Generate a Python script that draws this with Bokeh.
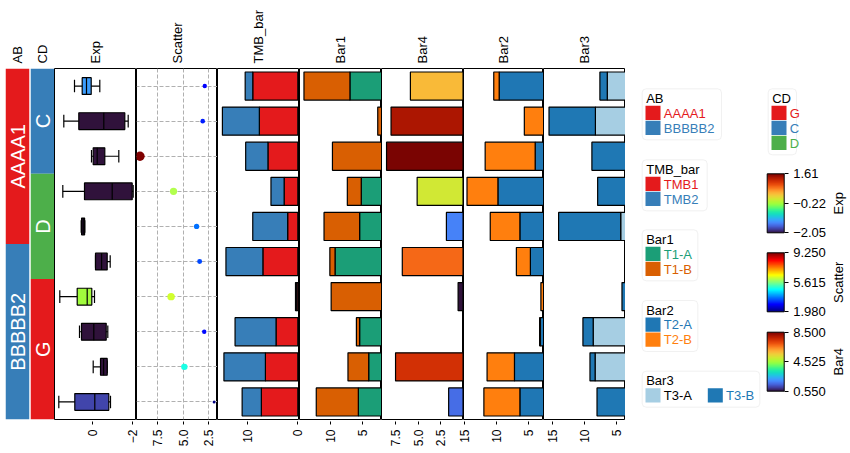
import numpy as np
from math import pi
from bokeh.plotting import figure
from bokeh.layouts import row, column
from bokeh.models import (ColumnDataSource, Range1d, FixedTicker, BoxAnnotation, Spacer,
                          ColorBar, LinearColorMapper, Grid, CustomJSTickFormatter,
                          PrintfTickFormatter, LinearAxis)
from bokeh.palettes import Turbo256
from bokeh.transform import linear_cmap
from bokeh.embed import file_html
from bokeh.resources import INLINE
from bokeh.core.properties import value

FONT = "Liberation Sans"

# ---------------- data ----------------
N_ROWS = 10
row_ids = list(range(N_ROWS))

ab_groups = ["AAAA1"] * 5 + ["BBBBB2"] * 5
cd_groups = ["C"] * 3 + ["D"] * 3 + ["G"] * 4
ab_levels = ["AAAA1", "BBBBB2"]
ab_palette = ["#e41a1c", "#377eb8"]
cd_levels = ["G", "C", "D"]
cd_palette = ["#e41a1c", "#377eb8", "#4daf4a"]

# Exp boxplot statistics per row
exp_whisker_hi = [0.885, 1.42, 0.035, 1.47, 0.55, -0.165, 1.62, 0.635, -0.05, 1.67]
exp_q3 = [0.50, 0.67, -0.05, 0.385, 0.53, -0.165, 0.75, 0.535, -0.415, 0.87]
exp_median = [0.285, -0.58, -0.25, -1.0, 0.45, -0.47, 0.25, -0.08, -0.57, -0.13]
exp_q1 = [0.05, -1.63, -0.63, -2.0, 0.38, -0.75, 0.02, -0.70, -0.75, -0.83]
exp_whisker_lo = [-0.38, -1.80, -1.33, -2.05, 0.37, -0.90, -0.115, -0.78, -0.75, -0.915]
exp_color_value = [-1.30, -2.05, -2.05, -2.05, -2.05, -2.05, -0.22, -2.05, -2.05, -1.78]
exp_low, exp_high = -2.05, 1.61
exp_ticks = [0, -2]

scatter_values = [2.9, 3.1, 9.25, 5.96, 3.7, 3.4, 6.2, 2.95, 4.9, 1.98]
scatter_low, scatter_high = 1.98, 9.25
scatter_ticks = [2.5, 5.0, 7.5]

tmb_levels = ["TMB1", "TMB2"]
tmb_palette = ["#e41a1c", "#377eb8"]
tmb1 = [8.9, 7.6, 5.9, 2.7, 2.0, 6.9, 0.3, 4.3, 6.4, 7.2]
tmb2 = [1.5, 7.3, 4.4, 2.6, 6.9, 7.3, 0.15, 8.1, 8.2, 3.8]
tmb_ticks = [0, 10]

bar1_levels = ["T1-A", "T1-B"]
bar1_palette = ["#1b9e77", "#d95f02"]
t1a = [7.0, 1.5, 1.0, 5.25, 5.5, 9.3, 0.8, 5.5, 4.1, 5.7]
t1b = [7.1, 1.2, 8.7, 2.15, 5.5, 0.8, 9.1, 0.5, 3.2, 6.5]
bar1_ticks = [5, 10]

bar4_values = [5.85, 8.0, 8.5, 5.1, 1.85, 6.75, 0.55, float("nan"), 7.5, 1.6]
bar4_low, bar4_high = 0.55, 8.5
bar4_ticks = [2.5, 5.0, 7.5]

bar2_levels = ["T2-A", "T2-B"]
bar2_palette = ["#1f77b4", "#ff7f0e"]
t2a = [9.55, 1.5, 3.9, 9.75, 6.3, 4.65, 2.0, 3.1, 7.15, 6.3]
t2b = [0.85, 4.1, 7.85, 4.85, 4.65, 2.2, 1.0, 0.1, 4.3, 5.65]
bar2_ticks = [5, 10, 15]

bar3_levels = ["T3-A", "T3-B"]
bar3_palette = ["#a6cee3", "#1f78b4"]
bar3_text_colors = ["black", "#1f78b4"]
t3a = [6.4, 8.25, 1.0, 1.2, 4.3, 1.5, 1.0, 8.6, 8.3, 2.0]
t3b = [1.15, 7.25, 7.8, 6.7, 9.7, 1.2, 3.1, 1.6, 0.8, 6.0]
bar3_ticks = [5, 10, 15]

exp_cb_ticks = [-2.05, -0.22, 1.61]
scatter_cb_ticks = [1.98, 5.615, 9.25]
bar4_cb_ticks = [0.55, 4.525, 8.5]


def jet_palette(n=256):
    t = np.linspace(0, 1, n)

    def ch(c):
        return np.clip(1.5 - np.abs(4 * t - c), 0, 1)

    r, g, b = ch(3), ch(2), ch(1)
    return ["#%02x%02x%02x" % (int(round(a * 255)), int(round(bb * 255)), int(round(cc * 255)))
            for a, bb, cc in zip(r, g, b)]


JET = jet_palette()

# ---------------- layout ----------------
FRAME_H = 351
TOP = 68
ROW_Y = [i + 0.5 for i in row_ids]
MINUS_FMT0 = CustomJSTickFormatter(code="return tick.toFixed(0).replace('-', '\u2212');")

# panel pixel extents and axis value at each edge
PANELS = {
    "Exp": (54, 136, 1.885, -2.215),
    "Scatter": (136, 217, 9.59, 1.65),
    "TMB_bar": (217, 299, 15.87, -0.34),
    "Bar1": (299, 381, 14.79, 2.12),
    "Bar4": (381, 463, 9.06, -0.05),
    "Bar2": (463, 543, 15.15, 2.59),
    "Bar3": (543, 625, 16.36, 3.55),
}
# pixel extents of the tick-axis strips (wider where labels overhang)
AXIS_STRIPS = {
    "Exp": (54, 140), "Scatter": (140, 217), "TMB_bar": (217, 305), "Bar1": (305, 381),
    "Bar4": (381, 455), "Bar2": (455, 543), "Bar3": (543, 625),
}


def add_title(p, title, mid):
    ax = LinearAxis(ticker=FixedTicker(ticks=[mid]),
                    formatter=CustomJSTickFormatter(code="return %r;" % title))
    ax.major_label_orientation = pi / 2
    ax.major_label_text_font = FONT
    ax.major_label_text_font_size = "13px"
    ax.major_label_text_color = "black"
    ax.major_tick_line_color = None
    ax.minor_tick_line_color = None
    ax.axis_line_color = None
    ax.major_tick_out = 0
    ax.major_tick_in = 0
    ax.major_label_standoff = 5
    p.add_layout(ax, "above")


def panel(width, xr, title, outline=True, left_border=0, right_border=0):
    p = figure(frame_width=width, frame_height=FRAME_H, min_border_left=left_border,
               min_border_right=right_border, min_border_top=TOP, min_border_bottom=1,
               x_range=Range1d(*xr), y_range=Range1d(N_ROWS, 0),
               x_axis_type=None, y_axis_type=None,
               toolbar_location=None, output_backend="svg")
    p.outline_line_color = "black" if outline else None
    p.outline_line_width = 1
    add_title(p, title, (xr[0] + xr[1]) / 2)
    return p


def data_panel(name):
    x0, x1, d0, d1 = PANELS[name]
    return panel(x1 - x0, (d0, d1), name)


def style_axis(ax, ticks, fmt=None):
    ax.ticker = FixedTicker(ticks=ticks)
    if fmt is not None:
        ax.formatter = fmt
    ax.major_label_orientation = pi / 2
    ax.major_label_text_font = FONT
    ax.major_label_text_font_size = "12px"
    ax.major_label_text_color = "black"
    ax.major_tick_line_color = "black"
    ax.major_tick_out = 3
    ax.major_tick_in = 0
    ax.minor_tick_line_color = None
    ax.axis_line_color = None
    ax.major_label_standoff = 5


def axis_strip(name, ticks, fmt=None):
    x0, x1, d0, d1 = PANELS[name]
    a0, a1 = AXIS_STRIPS[name]
    k = (d1 - d0) / (x1 - x0)
    f = figure(frame_width=a1 - a0, frame_height=1, min_border_left=0, min_border_right=0,
               min_border_top=0, min_border_bottom=30,
               x_range=Range1d(d0 + (a0 - x0) * k, d0 + (a1 - x0) * k), y_range=Range1d(0, 1),
               y_axis_type=None, toolbar_location=None, output_backend="svg")
    f.outline_line_color = None
    f.xgrid.visible = False
    style_axis(f.xaxis[0], ticks, fmt)
    return f


def runs(labels):
    out = []
    start = 0
    for i in range(1, len(labels) + 1):
        if i == len(labels) or labels[i] != labels[start]:
            out.append((labels[start], start, i))
            start = i
    return out


def annotation_strip(width, groups, levels, palette, title, left_border=0, right_border=0):
    p = panel(width, (0, 1), title, outline=False, left_border=left_border,
              right_border=right_border)
    cmap = dict(zip(levels, palette))
    rr = runs(groups)
    src = ColumnDataSource(dict(
        top=[s for _, s, _ in rr], bottom=[e for _, _, e in rr],
        color=[cmap[g] for g, _, _ in rr], label=[g for g, _, _ in rr],
        mid=[(s + e) / 2 for _, s, e in rr]))
    p.quad(left=0, right=1, top="top", bottom="bottom", fill_color="color",
           line_color=None, source=src)
    p.text(x=0.5, y="mid", text="label", angle=pi / 2, text_color="white",
           text_font=value(FONT), text_font_size="20px", text_align="center",
           text_baseline="middle", source=src)
    return p


figs = []
figs.append(annotation_strip(24, ab_groups, ab_levels, ab_palette, "AB", left_border=5,
                             right_border=1))
figs.append(annotation_strip(24, cd_groups, cd_levels, cd_palette, "CD"))

# Exp boxplot
p_exp = data_panel("Exp")
esrc = ColumnDataSource(dict(y=ROW_Y, hi=exp_whisker_hi, q3=exp_q3, med=exp_median,
                             q1=exp_q1, lo=exp_whisker_lo, c=exp_color_value,
                             ytop=[y - 0.24 for y in ROW_Y], ybot=[y + 0.24 for y in ROW_Y],
                             ctop=[y - 0.18 for y in ROW_Y], cbot=[y + 0.18 for y in ROW_Y]))
p_exp.segment(x0="lo", y0="y", x1="hi", y1="y", line_color="black", line_width=1.2, source=esrc)
p_exp.segment(x0="lo", y0="ctop", x1="lo", y1="cbot", line_color="black", line_width=1.2, source=esrc)
p_exp.segment(x0="hi", y0="ctop", x1="hi", y1="cbot", line_color="black", line_width=1.2, source=esrc)
p_exp.quad(left="q1", right="q3", top="ytop", bottom="ybot",
           fill_color=linear_cmap("c", Turbo256, exp_low, exp_high), line_color="black",
           line_width=1.2, source=esrc)
p_exp.segment(x0="med", y0="ytop", x1="med", y1="ybot", line_color="black", line_width=1.2, source=esrc)
figs.append(p_exp)

# Scatter
p_sc = data_panel("Scatter")
p_sc.add_layout(Grid(dimension=0, ticker=FixedTicker(ticks=scatter_ticks), grid_line_color="#b0b0b0",
                     grid_line_dash="4 2"))
p_sc.add_layout(Grid(dimension=1, ticker=FixedTicker(ticks=ROW_Y), grid_line_color="#b0b0b0",
                     grid_line_dash="4 2"))
sv = np.array(scatter_values)
ssrc = ColumnDataSource(dict(x=scatter_values, y=ROW_Y,
                             size=np.sqrt(9 + 11 * (sv - scatter_low)).tolist()))
p_sc.scatter(x="x", y="y", size="size", source=ssrc, line_color=None,
             fill_color=linear_cmap("x", JET, scatter_low, scatter_high))
figs.append(p_sc)


def stacked_panel(name, a, b, colors):
    p = data_panel(name)
    src = ColumnDataSource(dict(y=ROW_Y, a=a, ab=[x + y for x, y in zip(a, b)],
                                zero=[0] * len(a)))
    p.hbar(y="y", left="zero", right="a", height=0.8, fill_color=colors[0],
           line_color="black", line_width=1.2, source=src)
    p.hbar(y="y", left="a", right="ab", height=0.8, fill_color=colors[1],
           line_color="black", line_width=1.2, source=src)
    return p


figs.append(stacked_panel("TMB_bar", tmb1, tmb2, tmb_palette))
figs.append(stacked_panel("Bar1", t1a, t1b, bar1_palette))

# Bar4
p_b4 = data_panel("Bar4")
b4src = ColumnDataSource(dict(y=ROW_Y, v=bar4_values, zero=[0] * N_ROWS))
p_b4.hbar(y="y", left="zero", right="v", height=0.8,
          fill_color=linear_cmap("v", Turbo256, bar4_low, bar4_high), line_color="black",
          line_width=1.2, source=b4src)
figs.append(p_b4)

figs.append(stacked_panel("Bar2", t2a, t2b, bar2_palette))
figs.append(stacked_panel("Bar3", t3a, t3b, bar3_palette))

# ---------------- legends ----------------
LG_X0 = 625
LG_W = 222
lg = figure(frame_width=LG_W, frame_height=FRAME_H, min_border_left=0, min_border_right=0,
            min_border_top=TOP, min_border_bottom=1,
            x_range=Range1d(LG_X0, LG_X0 + LG_W), y_range=Range1d(TOP + FRAME_H, TOP),
            x_axis_type=None, y_axis_type=None, toolbar_location=None, output_backend="svg")
lg.outline_line_color = None


def legend_box(title, labels, colors, text_colors, left, top, right, ncol=1, col_w=62.3):
    nrow = (len(labels) + ncol - 1) // ncol
    bottom = top + 17 + 15 * nrow + 4
    lg.add_layout(BoxAnnotation(left=left, right=right, top=top, bottom=bottom,
                                fill_color=None, line_color="#d0d0d0", line_width=1,
                                border_radius=4, level="underlay"))
    lg.text(x=[left + 4], y=[top + 9.5], text=[title], text_font=value(FONT),
            text_font_size="13px", text_color="black", text_baseline="middle")
    px = [left + 3.3 + (i % ncol) * col_w for i in range(len(labels))]
    py = [top + 17 + 15 * (i // ncol) for i in range(len(labels))]
    src = ColumnDataSource(dict(l=px, r=[x + 15 for x in px], t=py, b=[y + 14.3 for y in py],
                                tx=[x + 18.3 for x in px], ty=[y + 7.4 for y in py],
                                c=colors, tc=text_colors, lab=labels))
    lg.quad(left="l", right="r", top="t", bottom="b", fill_color="c", line_color=None, source=src)
    lg.text(x="tx", y="ty", text="lab", text_color="tc", text_font=value(FONT),
            text_font_size="13px", text_baseline="middle", source=src)


legend_box("AB", ab_levels, ab_palette, ab_palette, 641.7, 88.3, 721)
legend_box("TMB_bar", tmb_levels, tmb_palette, tmb_palette, 641.7, 159.3, 706.7)
legend_box("Bar1", bar1_levels, bar1_palette, bar1_palette, 641.7, 229.3, 697.3)
legend_box("Bar2", bar2_levels, bar2_palette, bar2_palette, 641.7, 300, 697.3)
legend_box("Bar3", bar3_levels, bar3_palette, bar3_text_colors, 641.7, 370.7, 759.3, ncol=2)
legend_box("CD", cd_levels, cd_palette, cd_palette, 767.7, 88.3, 796)

CB_H = 59


def colorbar(palette, low, high, ticks, fmt, top, title):
    cb = ColorBar(color_mapper=LinearColorMapper(palette=palette, low=low, high=high),
                  ticker=FixedTicker(ticks=ticks), formatter=fmt,
                  location=(766.7 - LG_X0, TOP + FRAME_H - (top + CB_H)), width=17, height=CB_H,
                  padding=0, margin=0, bar_line_color="black", border_line_color=None,
                  background_fill_alpha=0, major_tick_line_color="black",
                  major_tick_out=4, major_tick_in=0, minor_tick_line_color=None,
                  label_standoff=5, major_label_text_font=FONT,
                  major_label_text_font_size="13px", major_label_text_color="black")
    lg.add_layout(cb, "center")
    lg.text(x=[838.3], y=[top + CB_H / 2], text=[title], angle=pi / 2, text_font=value(FONT),
            text_font_size="13px", text_color="black", text_align="center",
            text_baseline="middle")


colorbar(Turbo256, exp_low, exp_high, exp_cb_ticks,
         CustomJSTickFormatter(code="return tick.toFixed(2).replace('-', '\u2212');"),
         173.3, "Exp")
colorbar(JET, scatter_low, scatter_high, scatter_cb_ticks, PrintfTickFormatter(format="%.3f"),
         252.3, "Scatter")
colorbar(Turbo256, bar4_low, bar4_high, bar4_cb_ticks, PrintfTickFormatter(format="%.3f"),
         331.7, "Bar4")

figs.append(lg)

# ---------------- bottom tick axes ----------------
axes_row = [Spacer(width=54, height=31)]
axes_row.append(axis_strip("Exp", exp_ticks, MINUS_FMT0))
axes_row.append(axis_strip("Scatter", scatter_ticks, PrintfTickFormatter(format="%.1f")))
axes_row.append(axis_strip("TMB_bar", tmb_ticks))
axes_row.append(axis_strip("Bar1", bar1_ticks))
axes_row.append(axis_strip("Bar4", bar4_ticks, PrintfTickFormatter(format="%.1f")))
axes_row.append(axis_strip("Bar2", bar2_ticks))
axes_row.append(axis_strip("Bar3", bar3_ticks))

layout = column(row(*figs, spacing=0), row(*axes_row, spacing=0), spacing=0)
open("out.html", "w").write(file_html(layout, INLINE))
